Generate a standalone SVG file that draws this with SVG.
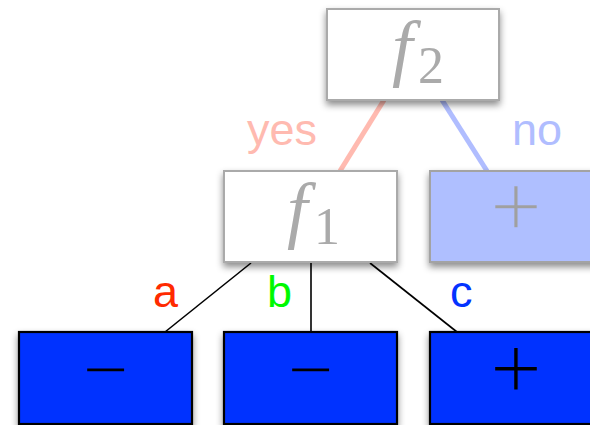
<svg xmlns="http://www.w3.org/2000/svg" width="590" height="425" viewBox="0 0 590 425">
<defs>
<filter id="sh" x="-20%" y="-20%" width="140%" height="150%">
<feDropShadow dx="0" dy="4" stdDeviation="3.5" flood-color="#000" flood-opacity="0.45"/>
</filter>
</defs>
<style>
.gbox{fill:#fff;stroke:#aaa;stroke-width:2;filter:url(#sh)}
.lbox{fill:#afbfff;stroke:#a3a3a3;stroke-width:2;filter:url(#sh)}
.bbox{fill:#0433ff;stroke:#000;stroke-width:2.2;filter:url(#sh)}
.fv{font-family:"Liberation Serif",serif;font-style:italic;fill:#aaa}
.sub{font-family:"Liberation Serif",serif;fill:#aaa}
.sym{font-family:"Liberation Serif",serif;text-anchor:middle}
.onb{fill:#000;stroke:#0433ff;stroke-width:1.2}
.onl{fill:#a0a0a0;stroke:#afbfff;stroke-width:1.4}
.lab{font-family:"Liberation Sans",Arial,sans-serif;font-size:45px}
.thin{stroke:#000;stroke-width:1.6;fill:none}
</style>
<g id="connectors">
<line x1="384" y1="100" x2="340" y2="171" stroke="#ffbab0" stroke-width="5"/>
<line x1="442" y1="100" x2="487" y2="171" stroke="#b0bdff" stroke-width="5"/>
<line class="thin" x1="251" y1="263" x2="165" y2="332"/>
<line class="thin" x1="311" y1="263" x2="311" y2="332"/>
<line class="thin" x1="370" y1="263" x2="457" y2="332"/>
<text class="lab" x="247" y="145" fill="#ffbab0">yes</text>
<text class="lab" x="512" y="145" fill="#b0bdff" font-size="46">no</text>
<text class="lab" x="153" y="307" fill="#ff2a00">a</text>
<text class="lab" x="267" y="307" fill="#00f900">b</text>
<text class="lab" x="450" y="307" fill="#0433ff">c</text>
</g>
<g id="f2">
<rect class="gbox" x="327" y="9" width="172" height="91"/>
<text class="fv" x="392" y="72" font-size="74">f</text>
<text class="sub" x="418" y="83" font-size="52">2</text>
</g>
<g id="f1">
<rect class="gbox" x="224" y="171" width="173" height="91"/>
<text class="fv" x="287" y="234" font-size="74">f</text>
<text class="sub" x="314" y="244" font-size="52">1</text>
</g>
<g id="plus-top">
<rect class="lbox" x="430" y="171" width="170" height="91"/>
<text class="sym onl" x="516" y="237" font-size="92">+</text>
</g>
<g id="minus-a">
<rect class="bbox" x="19" y="332" width="173" height="92"/>
<text class="sym onb" x="105.5" y="397" font-size="82">−</text>
</g>
<g id="minus-b">
<rect class="bbox" x="224" y="332" width="173" height="92"/>
<text class="sym onb" x="310.5" y="397" font-size="82">−</text>
</g>
<g id="plus-c">
<rect class="bbox" x="430" y="332" width="170" height="92"/>
<text class="sym onb" x="516" y="399" font-size="92">+</text>
</g>
</svg>
